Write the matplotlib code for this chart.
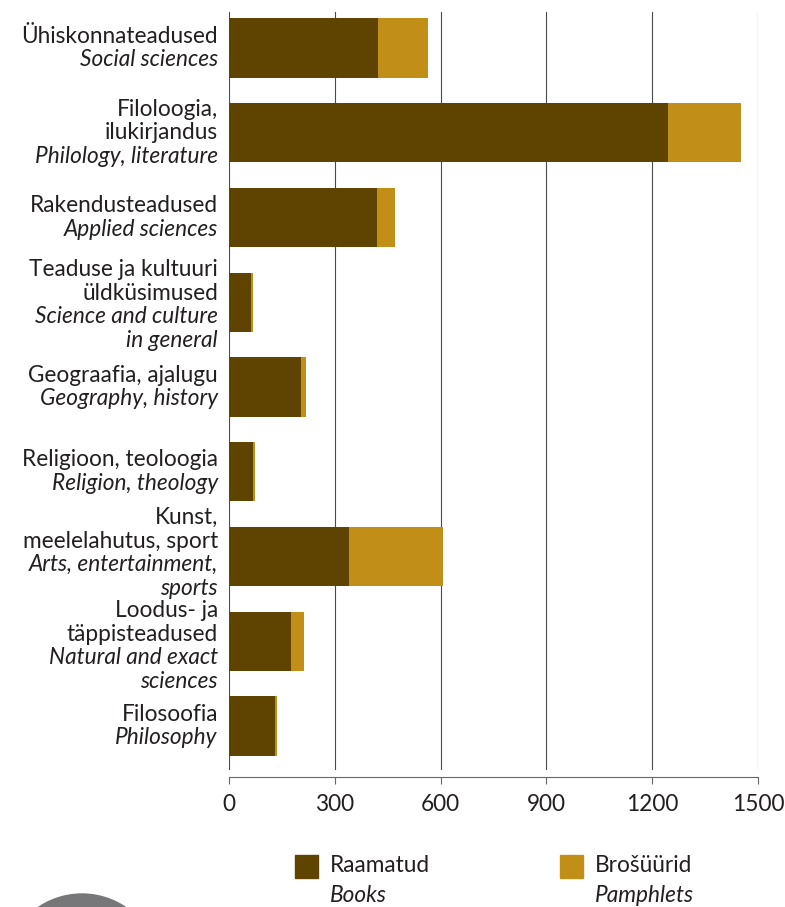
import matplotlib
matplotlib.use('Agg')
import matplotlib.pyplot as plt
from matplotlib.patches import Rectangle, Circle

# andmed (ülevalt alla)
labels_et = ['Ühiskonnateadused', 'Filoloogia,\nilukirjandus', 'Rakendusteadused',
             'Teaduse ja kultuuri\nüldküsimused', 'Geograafia, ajalugu',
             'Religioon, teoloogia', 'Kunst,\nmeelelahutus, sport',
             'Loodus- ja\ntäppisteadused', 'Filosoofia']
labels_en = ['Social sciences', 'Philology, literature', 'Applied sciences',
             'Science and culture\nin general', 'Geography, history',
             'Religion, theology', 'Arts, entertainment,\nsports',
             'Natural and exact\nsciences', 'Philosophy']
books = [422, 1246, 419, 62, 204, 68, 340, 176, 131]
pamphlets = [141, 207, 51, 6, 14, 5, 266, 36, 5]
xticks = [0, 300, 600, 900, 1200, 1500]

series_et = ['Raamatud', 'Brošüürid']
series_en = ['Books', 'Pamphlets']
colors = ['#5e4400', '#c18f17']
text_col = '#231f20'

plt.rcParams['font.family'] = ['Lato', 'DejaVu Sans']
fs = 16.3

W, H = 785, 907
fig = plt.figure(figsize=(W / 100, H / 100), dpi=100)
ax = fig.add_axes([229 / W, 1 - 770 / H, (758 - 229) / W, (770 - 12) / H])

pos = list(range(len(books)))
ax.barh(pos, books, height=0.7, color=colors[0], zorder=3)
ax.barh(pos, pamphlets, left=books, height=0.7, color=colors[1], zorder=3)

ax.set_xlim(0, 1500)
ax.set_ylim(8.52, -0.425)
ax.set_xticks(xticks)
ax.set_xticklabels([str(t) for t in xticks])
ax.set_yticks([])
ax.grid(axis='x', color='#4a4a4a', linewidth=0.8, zorder=0)
for gl in ax.get_xgridlines():
    gl.set_clip_on(False)
for s in ['top', 'right', 'left']:
    ax.spines[s].set_visible(False)
ax.spines['bottom'].set_position(('outward', 5))
ax.spines['bottom'].set_color('#666666')
ax.spines['bottom'].set_linewidth(0.8)
ax.tick_params(axis='x', direction='out', length=5, width=0.8, color='#666666',
               pad=7, labelsize=fs, labelcolor=text_col)

# kategooriate nimed, eesti keeles tavaline, inglise keeles kaldkiri
step = 17.0
nudge = [0, 0, 0, -2, 0, 0, 2.5, -3.5, 0]   # väike vertikaalne nihe (punktides)
for i in pos:
    lines = [(l, 'normal') for l in labels_et[i].split('\n')] + \
            [(l, 'italic') for l in labels_en[i].split('\n')]
    n = len(lines)
    for j, (txt, st) in enumerate(lines):
        off = ((n - 1) / 2 - j) * step + nudge[i]
        ax.annotate(txt, xy=(0, i), xycoords=ax.get_yaxis_transform(),
                    xytext=(-8, off), textcoords='offset points',
                    ha='right', va='center', fontsize=fs, fontstyle=st,
                    color=text_col)

# legend
leg_x = [295, 560]
for k in range(2):
    fig.add_artist(Rectangle((leg_x[k] / W, 1 - 878 / H), 23 / W, 23 / H,
                             transform=fig.transFigure, color=colors[k]))
    fig.text((leg_x[k] + 35) / W, 1 - 866 / H, series_et[k], ha='left', va='center',
             fontsize=fs, color=text_col)
    fig.text((leg_x[k] + 35) / W, 1 - 895 / H, series_en[k], ha='left', va='center',
             fontsize=fs, fontstyle='italic', color=text_col)

# hall ring vasakus alanurgas
fig.add_artist(Circle((0.82, (H - 972) / 100), 0.78, transform=fig.dpi_scale_trans,
                      color='#77777a'))

fig.savefig('out.png', dpi=100)
